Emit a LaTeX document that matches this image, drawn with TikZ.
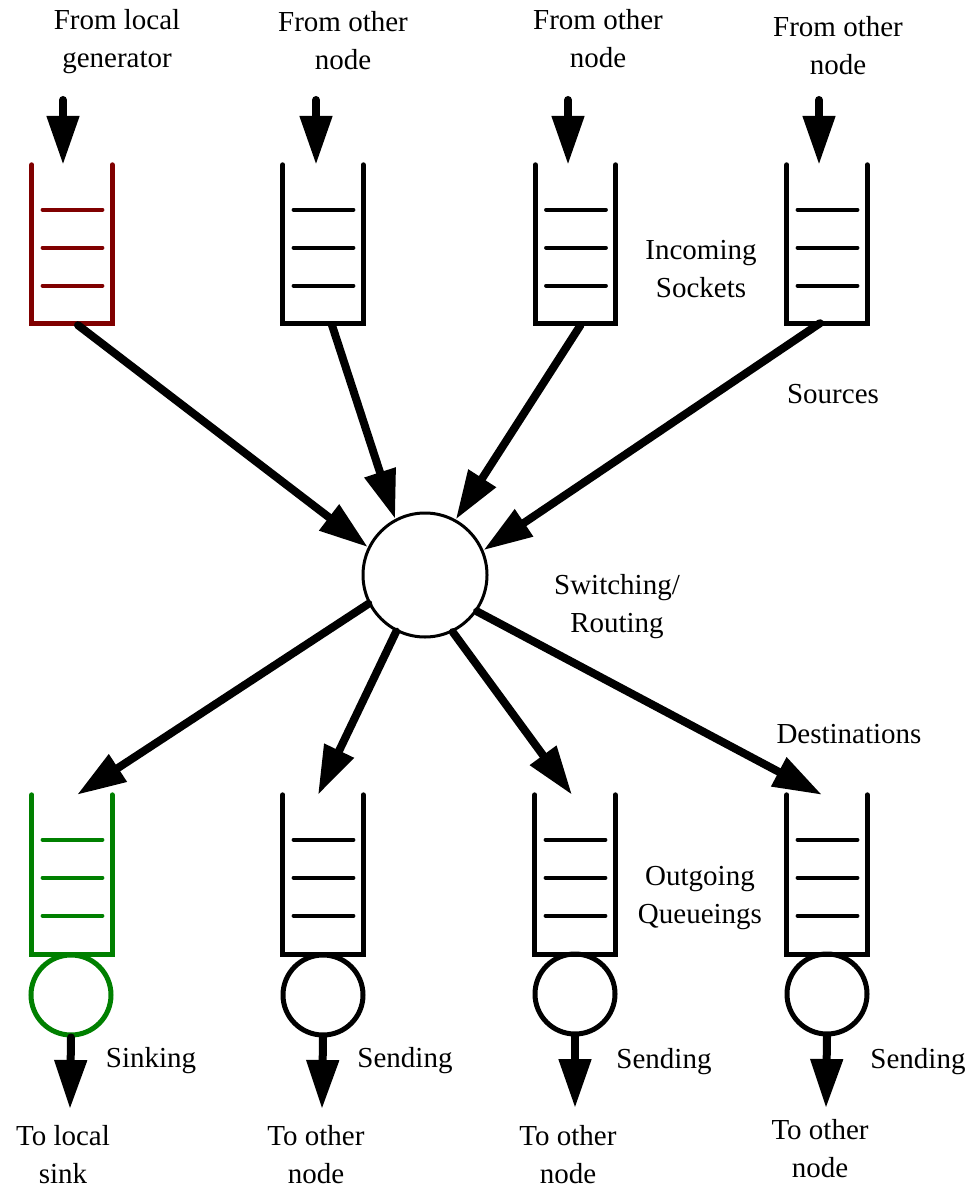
\documentclass[tikz,border=0pt]{standalone}
\usepackage{fontspec}
\setmainfont{Liberation Serif}
\usetikzlibrary{arrows.meta}
\definecolor{qred}{RGB}{128,0,0}
\definecolor{qgreen}{RGB}{0,128,0}

% U-shaped queue with three slots, drawn around a named queue node
\newcommand\queuebox[2]{%
  \draw[wall,#2] (#1.north west) -- (#1.south west) -- (#1.south east) -- (#1.north east);
  \foreach \d in {45,83,121}
    \draw[slot,#2] ([xshift=11pt,yshift=-\d pt]#1.north west) -- ([xshift=-10pt,yshift=-\d pt]#1.north east);
}

\begin{document}
\begin{tikzpicture}[x=1pt,y=-1pt,
  % multi-line labels are anchored at the baseline of their last line
  lbl/.style={font=\fontsize{29}{38}\selectfont, align=center, inner sep=0pt, anchor=base},
  queue/.style={rectangle, inner sep=0pt, minimum width=80pt, minimum height=158pt},
  wall/.style={line width=5pt, line cap=round, line join=miter},
  slot/.style={line width=4.5pt, line cap=round},
  server/.style={circle, draw, line width=5pt, minimum size=80pt, inner sep=0pt},
  arr/.style={line width=8pt, line cap=round, -{Triangle[length=49pt,width=31pt]}},
]
\useasboundingbox (0,0) rectangle (972,1190);

% incoming sockets
\node[queue] (q1) at (72,244) {};
\node[queue] (q2) at (323,244) {};
\node[queue] (q3) at (575.5,244) {};
\node[queue] (q4) at (827,244) {};
\queuebox{q1}{qred}
\queuebox{q2}{black}
\queuebox{q3}{black}
\queuebox{q4}{black}

% switching / routing
\node[circle, draw, line width=3pt, minimum size=124pt, inner sep=0pt] (hub) at (425,575) {};

% outgoing queues with their servers
\node[queue, minimum height=159pt] (o1) at (72,874.5) {};
\node[queue, minimum height=159pt] (o2) at (323,874.5) {};
\node[queue, minimum height=159pt] (o3) at (575,874.5) {};
\node[queue, minimum height=159pt] (o4) at (827,874.5) {};
\queuebox{o1}{qgreen}
\queuebox{o2}{black}
\queuebox{o3}{black}
\queuebox{o4}{black}
\node[server, qgreen] (s1) at (71,995) {};
\node[server] (s2) at (323,995) {};
\node[server] (s3) at (575,994) {};
\node[server] (s4) at (827,994) {};

% arrival arrows
\coordinate (i1) at (63,100);
\coordinate (i2) at (316,100);
\coordinate (i3) at (568,100);
\coordinate (i4) at (819,100);
\foreach \k in {1,...,4}
  \draw[arr] (i\k) -- (i\k |- q\k.north);

% sockets to the switch
\draw[arr] ([xshift=6pt,yshift=-2pt]q1.south) -- (hub.154);
\draw[arr] ([xshift=9pt,yshift=-2pt]q2.south) -- (hub.118);
\draw[arr] ([xshift=5pt,yshift=-2pt]q3.south) -- (hub.61);
\draw[arr] ([xshift=-7pt]q4.south) -- (hub.23);

% switch to the outgoing queues
\draw[arr] (hub.207) -- ([xshift=5pt]o1.north);
\draw[arr] (hub.243) -- ([xshift=-5pt]o2.north);
\draw[arr] (hub.296) -- ([xshift=-3pt]o3.north);
\draw[arr] (hub.325) -- ([xshift=-5pt]o4.north);

% departures
\coordinate (d1) at (70,1109);
\coordinate (d2) at (322,1109);
\coordinate (d3) at (575,1108);
\coordinate (d4) at (826,1108);
\foreach \k in {1,...,4}
  \draw[arr] (s\k.south) -- (d\k);

% labels
\node[lbl] (t1) at (117,68) {From local\\generator};
\node[lbl] (t2) at (343,70) {From other\\node};
\node[lbl] (t3) at (598,68) {From other\\node};
\node[lbl] (t4) at (838,75) {From other\\node};
\node[lbl] (tin) at (701,297) {Incoming\\Sockets};
\node[lbl] (tsrc) at (833,403) {Sources};
\node[lbl] (tsw) at (617,632) {Switching/\\Routing};
\node[lbl] (tdst) at (849,743) {Destinations};
\node[lbl] (tout) at (700,923) {Outgoing\\Queueings};
\node[lbl] (k1) at (151,1067) {Sinking};
\node[lbl] (k2) at (405,1067) {Sending};
\node[lbl] (k3) at (664,1068) {Sending};
\node[lbl] (k4) at (918,1068) {Sending};
\node[lbl] (b1) at (63,1183) {To local\\sink};
\node[lbl] (b2) at (316,1183) {To other\\node};
\node[lbl] (b3) at (568,1183) {To other\\node};
\node[lbl] (b4) at (820,1177) {To other\\node};
\end{tikzpicture}
\end{document}
